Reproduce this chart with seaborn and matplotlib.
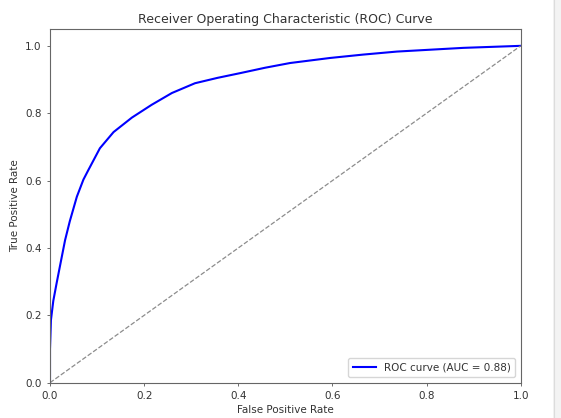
import numpy as np
import pandas as pd
import matplotlib
matplotlib.use("Agg")
import matplotlib.pyplot as plt
import seaborn as sns
from matplotlib.patches import Rectangle

# ROC operating points (false positive rate, true positive rate)
fpr = [0.0, 0.0, 0.002, 0.007, 0.014, 0.021, 0.032, 0.042, 0.057, 0.071,
       0.081, 0.106, 0.135, 0.174, 0.216, 0.259, 0.308, 0.356, 0.404, 0.457,
       0.510, 0.595, 0.665, 0.737, 0.878, 1.0]
tpr = [0.0, 0.100, 0.186, 0.243, 0.295, 0.345, 0.423, 0.479, 0.552, 0.603,
       0.630, 0.696, 0.744, 0.787, 0.825, 0.860, 0.889, 0.905, 0.919, 0.935,
       0.949, 0.964, 0.974, 0.983, 0.994, 1.0]
chance = [0.0, 1.0]

roc_auc = np.trapezoid(tpr, fpr)

df = pd.DataFrame({"fpr": fpr, "tpr": tpr})

fig = plt.figure(figsize=(5.61, 4.18), dpi=100)
ax = fig.add_axes([50 / 561, 1 - 382.7 / 418, (520.7 - 50) / 561, (382.7 - 29) / 418])

sns.lineplot(data=df, x="fpr", y="tpr", sort=False, estimator=None, ax=ax,
             color="blue", linewidth=1.5, label=f"ROC curve (AUC = {roc_auc:.2f})")
ax.plot(chance, chance, color="#8c8c8c", linestyle="--", linewidth=0.9)

ax.set_xlim(0.0, 1.0)
ax.set_ylim(0.0, 1.05)
ax.set_xlabel("False Positive Rate", fontsize=7.5, color="#333333", labelpad=3)
ax.set_ylabel("True Positive Rate", fontsize=7.5, color="#333333", labelpad=4)
ax.set_title("Receiver Operating Characteristic (ROC) Curve", fontsize=9,
             color="#333333", pad=4)
ax.tick_params(labelsize=7.5, width=0.6, length=2.5, colors="#555555", labelcolor="#333333")
for s in ax.spines.values():
    s.set_linewidth(0.8)
    s.set_color("#666666")
leg = ax.legend(loc="lower right", fontsize=7.5, frameon=True, fancybox=True,
                borderpad=0.45, handlelength=2.2)
for t in leg.get_texts():
    t.set_color("#333333")

# light panel edge on the right side of the canvas
fig.patches.append(Rectangle((553 / 561, 0), 8 / 561, 1, transform=fig.transFigure,
                             facecolor="#f3f3f3", edgecolor="none", zorder=-1))
fig.lines.append(plt.Line2D([553.5 / 561, 553.5 / 561], [0, 1], transform=fig.transFigure,
                            color="#dcdcdc", linewidth=0.8))

fig.savefig("out.png", dpi=100)
